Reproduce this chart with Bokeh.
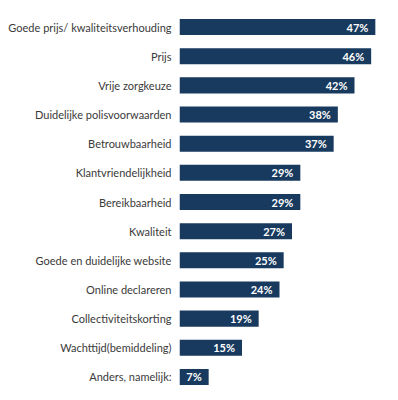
from bokeh.plotting import figure
from bokeh.models import ColumnDataSource
from bokeh.core.properties import value
from bokeh.embed import file_html
from bokeh.resources import INLINE

categories = [
    "Goede prijs/ kwaliteitsverhouding",
    "Prijs",
    "Vrije zorgkeuze",
    "Duidelijke polisvoorwaarden",
    "Betrouwbaarheid",
    "Klantvriendelijkheid",
    "Bereikbaarheid",
    "Kwaliteit",
    "Goede en duidelijke website",
    "Online declareren",
    "Collectiviteitskorting",
    "Wachttijd(bemiddeling)",
    "Anders, namelijk:",
]
values = [47, 46, 42, 38, 37, 29, 29, 27, 25, 24, 19, 15, 7]
labels = [f"{v}%" for v in values]

src = ColumnDataSource(dict(cat=categories, val=values, lab=labels))

p = figure(
    width=389, height=391,
    y_range=list(reversed(categories)),
    x_range=(0, 50.4),
    output_backend="svg", toolbar_location=None,
    min_border_left=179, min_border_right=0,
    min_border_top=12, min_border_bottom=0,
)
p.hbar(y="cat", right="val", left=0, height=0.55, source=src,
       fill_color="#173a5e", line_color=None)
p.text(x="val", y="cat", text="lab", source=src, x_offset=-7,
       text_align="right", text_baseline="middle",
       text_color="white", text_font=value("Lato"),
       text_font_style="bold", text_font_size="11px")

p.xaxis.visible = False
p.xgrid.visible = False
p.ygrid.visible = False
p.outline_line_color = None
ax = p.yaxis[0]
ax.axis_line_color = None
ax.major_tick_line_color = None
ax.minor_tick_line_color = None
ax.major_tick_out = 0
ax.major_tick_in = 0
ax.major_label_standoff = 8
ax.major_label_text_font = "Lato"
ax.major_label_text_font_size = "11px"
ax.major_label_text_color = "#3a3a3a"

open("out.html", "w").write(file_html(p, INLINE))
